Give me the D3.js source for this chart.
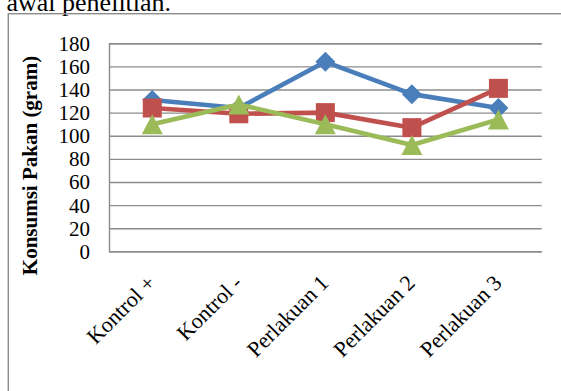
<!DOCTYPE html>
<html>
<head>
<meta charset="utf-8">
<script src="https://cdn.jsdelivr.net/npm/d3@7"></script>
<style>
  html, body { margin: 0; padding: 0; background: #ffffff; }
  svg { display: block; }
</style>
</head>
<body>
<svg id="chart" width="561" height="391"></svg>
<script>
// Feed consumption per treatment group (gram)
const categories = ["Kontrol +", "Kontrol -", "Perlakuan 1", "Perlakuan 2", "Perlakuan 3"];
const seriesBlue  = [131, 124, 164, 136, 124];
const seriesRed   = [124, 119, 120, 107, 141];
const seriesGreen = [110, 127, 110, 92, 114];
const yTickValues = [0, 20, 40, 60, 80, 100, 120, 140, 160, 180];
const yTitle = "Konsumsi Pakan (gram)";
const captionTail = "awal penelitian.";

const svg = d3.select("#chart");
const W = 561, H = 391;
const plot = { left: 109, right: 541.7, top: 43.3, bottom: 251.3 };
const serif = "'Liberation Serif', 'Times New Roman', serif";
const gridColor = "#8c8c8c";

// trailing line of the paragraph above the figure
svg.append("text")
  .attr("x", 6.5).attr("y", 11)
  .attr("font-family", serif).attr("font-size", 26)
  .attr("fill", "#000")
  .text(captionTail);

// chart frame
svg.append("rect")
  .attr("x", 8.3).attr("y", 13.7)
  .attr("width", W + 20).attr("height", H + 20)
  .attr("fill", "none").attr("stroke", gridColor).attr("stroke-width", 1.4);

const x = d3.scaleBand().domain(categories).range([plot.left, plot.right]);
const cx = c => x(c) + x.bandwidth() / 2;
const y = d3.scaleLinear().domain([0, 180]).range([plot.bottom, plot.top]);

// y axis with full-width gridlines
const yAxis = d3.axisLeft(y)
  .tickValues(yTickValues)
  .tickSize(-(plot.right - plot.left))
  .tickPadding(19)
  .tickFormat(d3.format("d"));

const gy = svg.append("g")
  .attr("transform", `translate(${plot.left},0)`)
  .call(yAxis);
gy.select(".domain")
  .attr("stroke", gridColor).attr("stroke-width", 1.4);
gy.selectAll(".tick line")
  .attr("stroke", gridColor).attr("stroke-width", 1.4);
gy.selectAll(".tick text")
  .attr("font-family", serif).attr("font-size", 21)
  .attr("fill", "#000").attr("dy", "0.33em");

// y axis title
svg.append("text")
  .attr("transform", `translate(37, 165.5) rotate(-90)`)
  .attr("text-anchor", "middle")
  .attr("font-family", serif).attr("font-size", 21)
  .attr("font-weight", "bold").attr("fill", "#000")
  .text(yTitle);

// category labels, slanted
svg.append("g").selectAll("text")
  .data(categories)
  .join("text")
  .attr("transform", d => `translate(${cx(d) + 4.5}, ${plot.bottom + 33}) rotate(-45)`)
  .attr("text-anchor", "end")
  .attr("font-family", serif).attr("font-size", 22)
  .attr("fill", "#000")
  .text(d => d);

// marker shapes centred on their bounding box
const diamond = {
  draw(ctx, r) {
    ctx.moveTo(0, -r); ctx.lineTo(r, 0); ctx.lineTo(0, r); ctx.lineTo(-r, 0); ctx.closePath();
  }
};
const square = {
  draw(ctx, r) { ctx.rect(-r, -r, 2 * r, 2 * r); }
};
const triangle = {
  draw(ctx, r) {
    const h = r * 0.95;
    ctx.moveTo(0, -h); ctx.lineTo(r, h); ctx.lineTo(-r, h); ctx.closePath();
  }
};

const series = [
  { values: seriesBlue,  color: "#4a7ebb", shape: diamond,  r: 10 },
  { values: seriesRed,   color: "#c0504d", shape: square,   r: 9.5 },
  { values: seriesGreen, color: "#9bbb59", shape: triangle, r: 10.5 }
];

const line = d3.line()
  .x((d, i) => cx(categories[i]))
  .y(d => y(d));

series.forEach(s => {
  const g = svg.append("g");
  g.append("path")
    .datum(s.values)
    .attr("d", line)
    .attr("fill", "none")
    .attr("stroke", s.color)
    .attr("stroke-width", 4.6)
    .attr("stroke-linejoin", "round")
    .attr("stroke-linecap", "round");
  g.selectAll("path.marker")
    .data(s.values)
    .join("path")
    .attr("class", "marker")
    .attr("transform", (d, i) => `translate(${cx(categories[i])}, ${y(d)})`)
    .attr("d", d3.symbol().type(s.shape).size(s.r))
    .attr("fill", s.color);
});
</script>
</body>
</html>
